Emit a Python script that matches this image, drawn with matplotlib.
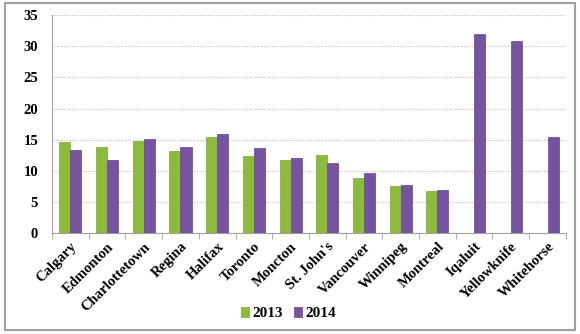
import numpy as np
import matplotlib.pyplot as plt
from matplotlib.patches import Rectangle

cities = ['Calgary', 'Edmonton', 'Charlottetown', 'Regina', 'Halifax', 'Toronto',
          'Moncton', "St. John's", 'Vancouver', 'Winnipeg', 'Montreal', 'Iqaluit',
          'Yellowknife', 'Whitehorse']
v2013 = [14.7, 13.8, 14.8, 13.1, 15.4, 12.4, 11.8, 12.5, 8.8, 7.5, 6.8, 0, 0, 0]
v2014 = [13.3, 11.8, 15.1, 13.9, 15.9, 13.7, 12.0, 11.3, 9.7, 7.8, 7.0, 31.9, 30.8, 15.4]
yticks = [0, 5, 10, 15, 20, 25, 30, 35]

plt.rcParams['font.family'] = 'Liberation Serif'
plt.rcParams['font.weight'] = 'bold'

fig = plt.figure(figsize=(5.8, 3.34), dpi=100)
ax = fig.add_axes([0.0897, 0.302, 0.886, 0.653])

x = np.arange(len(cities))
w = 0.3
ax.bar(x - w / 2, v2013, w, color='#8cbb3c', edgecolor='#7aa832', linewidth=0.5, label='2013', zorder=3)
ax.bar(x + w / 2, v2014, w, color='#7553a0', edgecolor='#634590', linewidth=0.5, label='2014', zorder=3)

ax.set_xlim(-0.5, len(cities) - 0.5)
ax.set_ylim(0, 35)
ax.set_yticks(yticks)
ax.set_yticklabels([str(t) for t in yticks], fontsize=10.5, fontweight='bold')
ax.set_xticks(x)
ax.set_xticklabels(cities, rotation=45, ha='right', rotation_mode='anchor', fontsize=10.5, fontweight='bold')
ax.tick_params(axis='x', length=0, pad=5)
ax.set_xticks(np.arange(-0.5, len(cities)), minor=True)
ax.tick_params(axis='x', which='minor', length=4, color='#a0a0a0')
ax.tick_params(axis='y', length=0, pad=10)

ax.grid(axis='y', linestyle=(0, (1, 1.5)), color='#b8b8b8', linewidth=0.8, zorder=0)
for s in ['top', 'right']:
    ax.spines[s].set_visible(False)
ax.spines['left'].set_color('#a0a0a0')
ax.spines['bottom'].set_color('#a0a0a0')

fig.legend(loc='center', bbox_to_anchor=(0.497, 0.06), ncol=2, frameon=False,
           prop={'size': 11, 'weight': 'bold'}, handlelength=0.55, handleheight=0.55,
           handletextpad=0.2, columnspacing=0.7)

fig.patches.append(Rectangle((0.008, 0.012), 0.984, 0.978, transform=fig.transFigure,
                             fill=False, edgecolor='#a0a0a0', linewidth=1.5))

fig.savefig('out.png', dpi=100)
